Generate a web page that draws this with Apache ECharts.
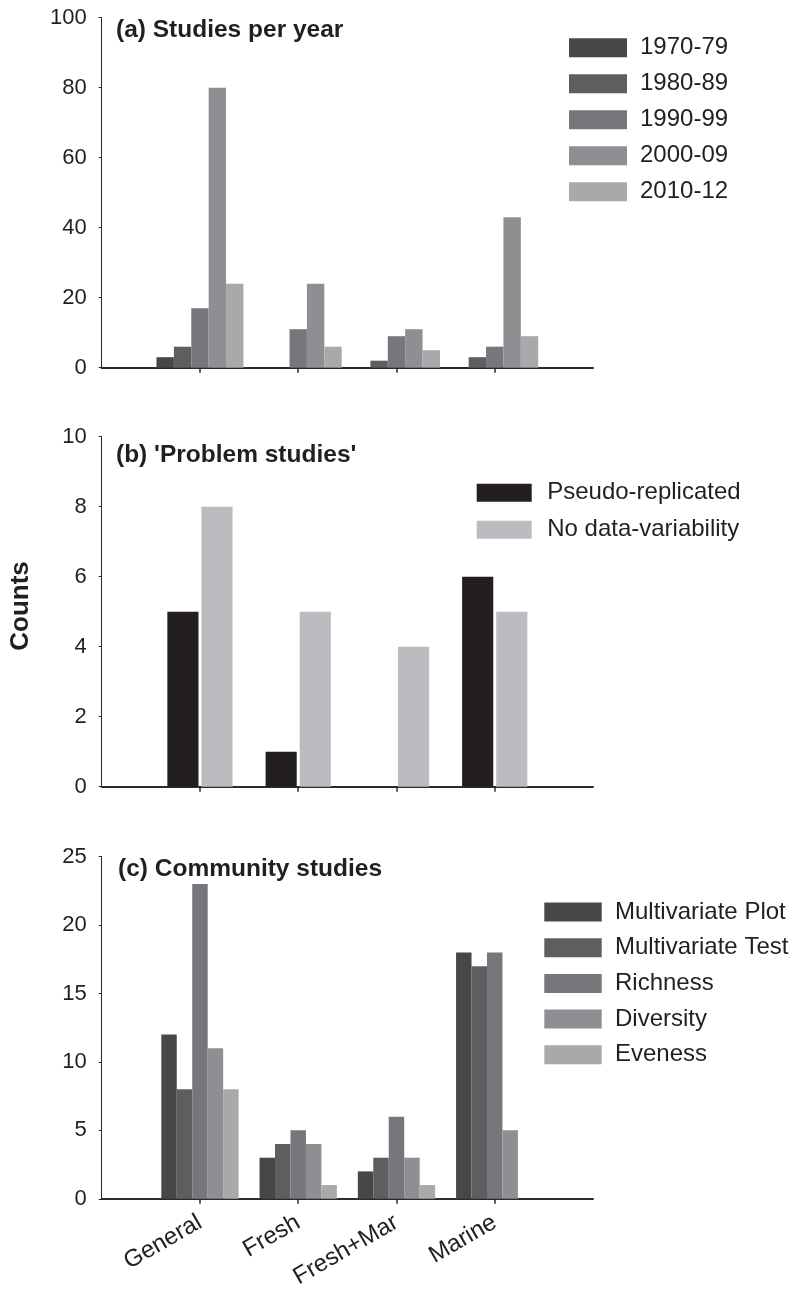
<!DOCTYPE html>
<html><head><meta charset="utf-8">
<script src="https://cdn.jsdelivr.net/npm/echarts@6/dist/echarts.min.js"></script>
<style>html,body{margin:0;padding:0;background:#fff}#c{width:799px;height:1291px}</style>
</head><body><div id="c"></div>
<script>
// ---- data ----
const habitats = ['General', 'Fresh', 'Fresh+Mar', 'Marine'];

const decades = ['1970-79', '1980-89', '1990-99', '2000-09', '2010-12'];
const studies1970s = [3, 0, 0, 0];
const studies1980s = [6, 0, 2, 3];
const studies1990s = [17, 11, 9, 6];
const studies2000s = [80, 24, 11, 43];
const studies2010s = [24, 6, 5, 9];

const problemTypes = ['Pseudo-replicated', 'No data-variability'];
const pseudoReplicated = [5, 1, 0, 6];
const noDataVariability = [8, 5, 4, 5];

const communityTypes = ['Multivariate Plot', 'Multivariate Test', 'Richness', 'Diversity', 'Eveness'];
const multivariatePlot = [12, 3, 2, 18];
const multivariateTest = [8, 4, 3, 17];
const richness = [23, 5, 6, 18];
const diversity = [11, 4, 3, 5];
const eveness = [8, 1, 1, 0];

const titles = ['(a) Studies per year', "(b) 'Problem studies'", '(c) Community studies'];
const yAxisLabel = 'Counts';

// ---- build ----
const FONT = "'Liberation Sans', Arial, sans-serif";
const INK = '#231f20';
const greys = ['#47474a', '#5e5e61', '#77777b', '#8f8f93', '#a9a9ac'];
const problemColors = ['#231f20', '#bbbcbf'];

const xCats = [''].concat(habitats, ['']);
const pad = arr => ['-'].concat(arr, ['-']);
const inner = (idx) => idx > 0 && idx < xCats.length - 1;

const gridTops = [17.7, 436.7, 856.7];
const gridHeights = [350, 350, 349.3];
const yMax = [100, 10, 25];
const yInt = [20, 2, 5];

const grids = gridTops.map((t, i) => ({ left: 101.7, width: 491.3, top: t, height: gridHeights[i] }));

const xAxes = [0, 1, 2].map(i => ({
  type: 'category', gridIndex: i, data: xCats, boundaryGap: false,
  axisLine: { show: true, lineStyle: { color: '#2b2b2b', width: 2 } },
  axisTick: { show: true, interval: inner, length: 5, lineStyle: { color: '#2b2b2b', width: 1.5 } },
  axisLabel: { show: i === 2, interval: inner, rotate: 30, fontSize: 24, margin: 22, color: INK, fontFamily: FONT },
  splitLine: { show: false }
}));

const yAxes = [0, 1, 2].map(i => ({
  type: 'value', gridIndex: i, min: 0, max: yMax[i], interval: yInt[i],
  axisLine: { show: true, lineStyle: { color: '#2b2b2b', width: 1 } },
  axisTick: { show: true, length: 3, lineStyle: { color: '#2b2b2b', width: 1 } },
  axisLabel: { fontSize: 22, margin: 15, color: INK, fontFamily: FONT },
  splitLine: { show: false }
}));

const seriesA = [studies1970s, studies1980s, studies1990s, studies2000s, studies2010s].map((d, k) => ({
  type: 'bar', name: decades[k], xAxisIndex: 0, yAxisIndex: 0, data: pad(d),
  itemStyle: { color: greys[k] }, barGap: '0%', barCategoryGap: '11.5%'
}));
const seriesB = [pseudoReplicated, noDataVariability].map((d, k) => ({
  type: 'bar', name: problemTypes[k], xAxisIndex: 1, yAxisIndex: 1, data: pad(d),
  itemStyle: { color: problemColors[k] }, barGap: '9.5%', barCategoryGap: '33.6%'
}));
const seriesC = [multivariatePlot, multivariateTest, richness, diversity, eveness].map((d, k) => ({
  type: 'bar', name: communityTypes[k], xAxisIndex: 2, yAxisIndex: 2, data: pad(d),
  itemStyle: { color: greys[k] }, barGap: '0%', barCategoryGap: '21.3%'
}));

const legendBase = (data, left, top, w, h, gap, tpad) => ({
  orient: 'vertical', left, top, itemWidth: w, itemHeight: h, itemGap: gap, icon: 'rect',
  padding: 0, selectedMode: false, data,
  textStyle: { fontSize: 24, lineHeight: h, padding: [0, 0, 0, tpad], color: INK, fontFamily: FONT }
});

const titleStyle = { fontSize: 24.5, fontWeight: 'bold', lineHeight: 24, color: INK, fontFamily: FONT };

const option = {
  animation: false,
  backgroundColor: '#fff',
  title: [
    { text: titles[0], left: 116, top: 18, padding: 0, textStyle: titleStyle },
    { text: titles[1], left: 116, top: 443, padding: 0, textStyle: titleStyle },
    { text: titles[2], left: 118, top: 857, padding: 0, textStyle: titleStyle }
  ],
  legend: [
    legendBase(decades, 569, 35.7, 58, 19, 12, 8),
    legendBase(problemTypes, 476.7, 480.7, 55, 18, 13, 10.5),
    legendBase(communityTypes, 544.3, 900, 57.4, 19, 11.7, 8.3)
  ],
  grid: grids,
  xAxis: xAxes,
  yAxis: yAxes,
  series: seriesA.concat(seriesB, seriesC),
  graphic: [{
    type: 'text', x: 21, y: 606, rotation: Math.PI / 2,
    style: { text: yAxisLabel, fill: INK, font: "bold 26px 'Liberation Sans', Arial, sans-serif", textAlign: 'center', textVerticalAlign: 'middle' }
  }]
};

const chart = echarts.init(document.getElementById('c'), null, { renderer: 'canvas' });
chart.setOption(option);
</script>
</body></html>
